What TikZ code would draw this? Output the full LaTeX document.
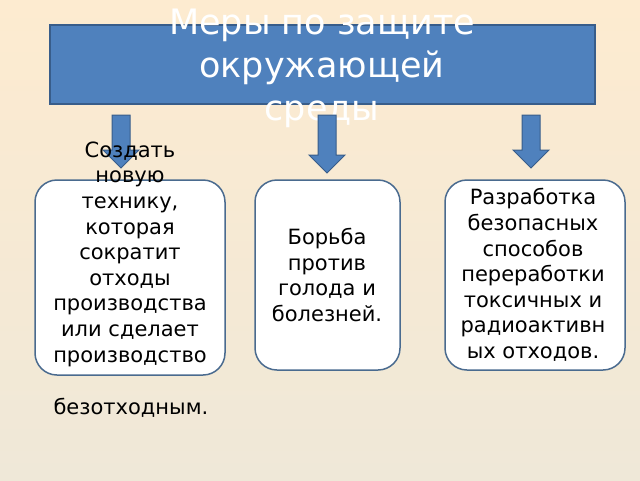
\documentclass[tikz,border=0pt]{standalone}
\usepackage{fontspec}
\setmainfont{DejaVu Sans}
\definecolor{titleblue}{HTML}{4F81BD}
\definecolor{titleedge}{HTML}{385D8A}
\definecolor{boxedge}{HTML}{4A6B8F}
\definecolor{bgtop}{HTML}{FDEBD0}
\definecolor{bgbot}{HTML}{EFE8D8}
\tikzset{
  textbox/.style={draw=boxedge, line width=1.5pt, fill=white, rounded corners=22pt},
  downarrow/.style={draw=titleedge, fill=titleblue, line width=1pt},
  boxtext/.style={align=center, font=\fontsize{21}{25.6}\selectfont, text=black}
}
\newcommand{\blockarrow}[3]{% x, top, bottom
  \draw[downarrow] (#1-9,#2) -- (#1+9,#2) -- (#1+9,#3-18) -- (#1+18,#3-18)
    -- (#1,#3) -- (#1-18,#3-18) -- (#1-9,#3-18) -- cycle;}
\begin{document}
\begin{tikzpicture}[x=1pt,y=-1pt]
  % background
  \shade[top color=bgtop, bottom color=bgbot] (0,0) rectangle (640,480);
  \useasboundingbox (0,0) rectangle (640,480);

  % title
  \draw[fill=titleblue, draw=titleedge, line width=1.5pt] (50,25) rectangle (595,104);
  \node[align=center, text=white, font=\fontsize{35}{43}\selectfont] (title) at (322,68)
    {Меры по защите\\окружающей\\среды};

  % arrows
  \blockarrow{121}{115}{168}
  \blockarrow{327}{115}{173}
  \blockarrow{531}{115}{168}

  % boxes
  \draw[textbox] (35,180) rectangle (225,375);
  \draw[textbox] (255,180) rectangle (400,370);
  \draw[textbox] (445,180) rectangle (625,370);

  % texts
  \node[boxtext] (techA) at (130,254)
    {Создать\\новую\\технику,\\которая\\сократит\\отходы\\производства\\или сделает\\производство};
  \node[boxtext, anchor=west] (techB) at (50,408) {безотходным.};
  \node[boxtext] (hunger) at (327,275) {Борьба\\против\\голода и\\болезней.};
  \node[boxtext] (waste) at (533,275)
    {Разработка\\безопасных\\способов\\переработки\\токсичных и\\радиоактивн\\ых отходов.};
\end{tikzpicture}
\end{document}
